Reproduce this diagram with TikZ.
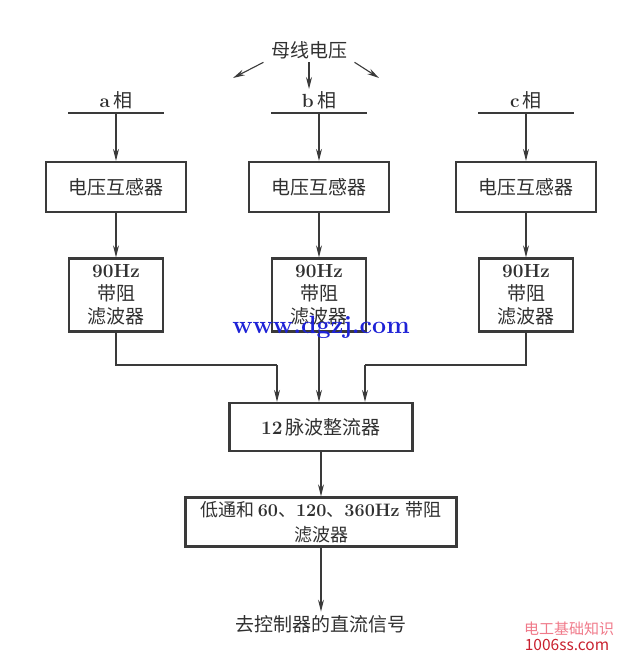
\documentclass[tikz,border=0pt]{standalone}
\usepackage{fontspec}
\newfontfamily\cjk{Noto Sans CJK SC}
\usetikzlibrary{arrows.meta,positioning}
\definecolor{lineGray}{HTML}{3A3A3A}
\definecolor{textGray}{HTML}{303030}
\definecolor{markBlue}{HTML}{1E22D6}
\definecolor{markPink}{HTML}{F07A8A}
\definecolor{markRed}{HTML}{C8202E}

\begin{document}
\begin{tikzpicture}[x=1pt,y=-1pt,font=\fontsize{19}{23}\selectfont,text=textGray,
    box/.style={draw=lineGray,line width=2.3pt,align=center,inner sep=0pt},
    ptbox/.style={box,minimum width=140pt,minimum height=50pt},
    filtbox/.style={box,minimum width=94pt,minimum height=73pt},
    feed/.style={draw=lineGray,line width=1.1pt,-{Stealth[length=12pt,width=6pt]}},
    wire/.style={draw=lineGray,line width=1.1pt},
    bus/.style={draw=lineGray,line width=1.8pt}]
  \useasboundingbox (0,0) rectangle (640,653);

  % bus voltage
  \node (src) at (309,50) {\cjk 母线电压};
  \coordinate (tl) at (233,78);
  \coordinate (tm) at (309,89);
  \coordinate (tr) at (379,78);
  \draw[feed] ([xshift=-4pt]src.south west) -- (tl);
  \draw[feed] (src) -- (tm);
  \draw[feed] ([xshift=4pt]src.south east) -- (tr);

  % three phases
  \foreach \ph/\x in {a/116,b/319,c/526}{
    \node (lbl\ph) at (\x,100) {\textbf{\ph}\,{\cjk 相}};
    \coordinate (bar\ph) at (\x,113);
    \draw[bus] ([xshift=-48pt]bar\ph) -- ([xshift=48pt]bar\ph);
    \node[ptbox] (pt\ph) at (\x,187) {\cjk 电压互感器};
    \node[filtbox] (flt\ph) at (\x,295) {\textbf{90Hz}\\{\cjk 带阻}\\{\cjk 滤波器}};
    \draw[feed] (bar\ph) -- (pt\ph);
    \draw[feed] (pt\ph) -- (flt\ph);
  }

  % rectifier and filter
  \node[box,minimum width=183pt,minimum height=48pt] (rect) at (321,427)
    {\textbf{12}\,{\cjk 脉波整流器}};
  \coordinate (ja) at (277,365);
  \coordinate (jc) at (365,365);
  \draw[wire] (flta) |- (ja);
  \draw[wire] (fltc) |- (jc);
  \draw[feed] (ja) -- (ja |- rect.north);
  \draw[feed] (jc) -- (jc |- rect.north);
  \draw[feed] (fltb) -- (fltb |- rect.north);

  \node[box,minimum width=271pt,minimum height=49pt,font=\fontsize{18}{25}\selectfont]
    (lpf) at (321,522)
    {{\cjk 低通和}\,\textbf{60}{\cjk 、}\textbf{120}{\cjk 、}\textbf{360Hz} {\cjk 带阻}\\{\cjk 滤波器}};
  \draw[feed] (rect) -- (lpf);

  \node (out) at (321,624) {\cjk 去控制器的直流信号};
  \draw[feed] (lpf) -- (out);

  % watermarks
  \node[text=markBlue,font=\fontsize{25}{27}\bfseries\selectfont] (wm) at (321,327)
    {www.dgzj.com};
  \node[text=markPink,inner sep=0pt,font=\cjk\fontsize{15}{16}\selectfont] (wmcn) at (569,629)
    {电工基础知识};
  \node[text=markRed,inner sep=0pt,font=\cjk\fontsize{15.5}{16}\selectfont] (wmen) at (567,645)
    {1006ss.com};
\end{tikzpicture}
\end{document}
